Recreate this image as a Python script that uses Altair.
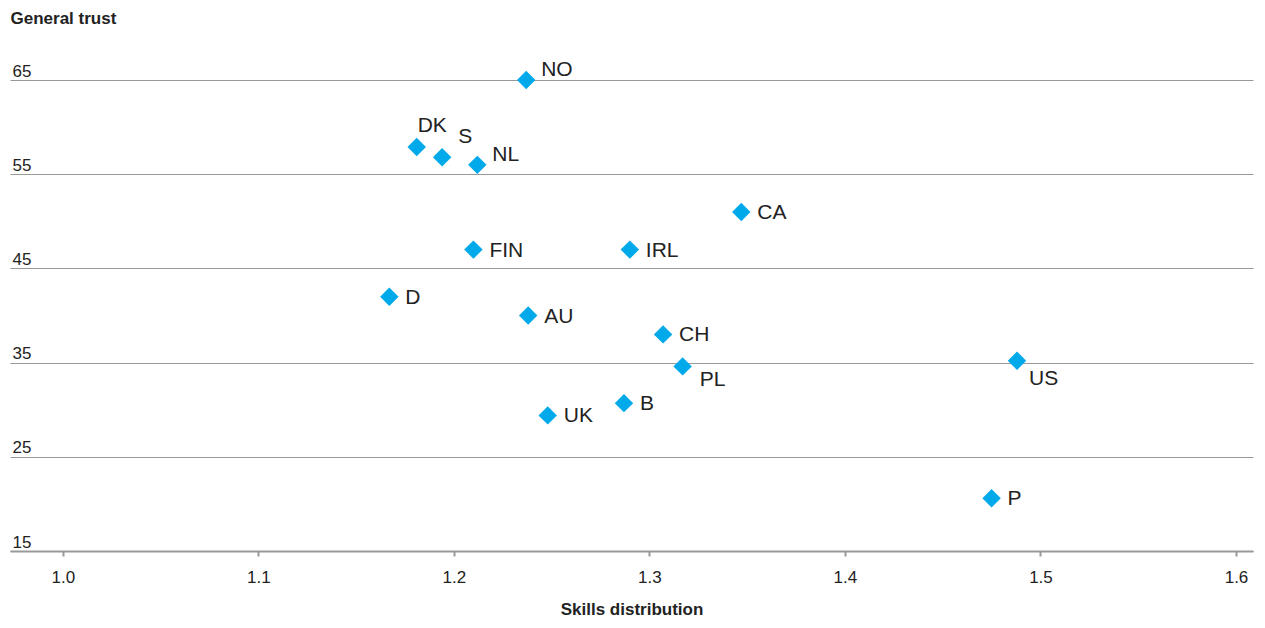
import altair as alt
import pandas as pd

countries = ["NO", "DK", "S", "NL", "CA", "FIN", "IRL", "D", "AU", "CH", "US", "PL", "B", "UK", "P"]
skills = [1.237, 1.181, 1.194, 1.212, 1.347, 1.210, 1.290, 1.167, 1.238, 1.307, 1.488, 1.317, 1.287, 1.248, 1.475]
trust = [65.0, 57.9, 56.8, 56.0, 51.0, 47.0, 47.0, 42.0, 40.0, 38.0, 35.2, 34.6, 30.7, 29.4, 20.6]

df = pd.DataFrame({"country": countries, "skills": skills, "trust": trust})

FONT = "Liberation Sans"
BLUE = "#00A9EA"

x = alt.X("skills:Q",
          scale=alt.Scale(domain=[0.973, 1.6087], nice=False, zero=False),
          axis=alt.Axis(values=[1.0, 1.1, 1.2, 1.3, 1.4, 1.5, 1.6], format=".1f",
                        title="Skills distribution", grid=False,
                        domainColor="#999999", domainWidth=2,
                        tickColor="#999999", tickSize=5, tickWidth=2,
                        labelFontSize=17, labelFont=FONT, labelColor="#222222",
                        labelPadding=13,
                        titleFont=FONT, titleFontSize=17, titleFontWeight="bold",
                        titleColor="#222222", titlePadding=16))
y = alt.Y("trust:Q",
          scale=alt.Scale(domain=[15, 70], nice=False, zero=False),
          axis=alt.Axis(values=[15, 25, 35, 45, 55, 65], grid=True,
                        gridColor="#999999", gridWidth=1,
                        domain=False, ticks=False,
                        labelAlign="left", labelBaseline="alphabetic",
                        labelPadding=-2, labelOffset=-4,
                        labelFontSize=17, labelFont=FONT, labelColor="#222222",
                        title="General trust", titleAngle=0, titleAlign="left",
                        titleBaseline="middle", titleX=0, titleY=-15,
                        titleFont=FONT, titleFontSize=17, titleFontWeight="bold",
                        titleColor="#222222"))

base = alt.Chart(df)

points = base.mark_point(shape="diamond", filled=True, size=340, color=BLUE, opacity=1).encode(x=x, y=y)

def labels(names, dx, dy):
    return base.transform_filter(
        alt.FieldOneOfPredicate(field="country", oneOf=names)
    ).mark_text(align="left", baseline="middle", dx=dx, dy=dy, font=FONT,
                fontSize=21, color="#222222").encode(x=x, y=y, text="country:N")

right = labels(["CA", "FIN", "IRL", "D", "AU", "CH", "B", "UK", "P"], 16, 1)
upright = labels(["NO", "NL"], 15, -10)
dk = labels(["DK"], 1, -21)
s = labels(["S"], 16, -20)
down_us = labels(["US"], 12, 18)
down_pl = labels(["PL"], 17, 14)

chart = alt.layer(points, right, upright, dk, s, down_us, down_pl).properties(
    width=1243, height=518,
    background="white",
    autosize=alt.AutoSizeParams(type="none"),
    padding={"left": 2, "top": 25, "right": 4, "bottom": 69},
).configure_view(stroke=None)

chart.save("out.html", embed_options={"renderer": "svg", "actions": False})
